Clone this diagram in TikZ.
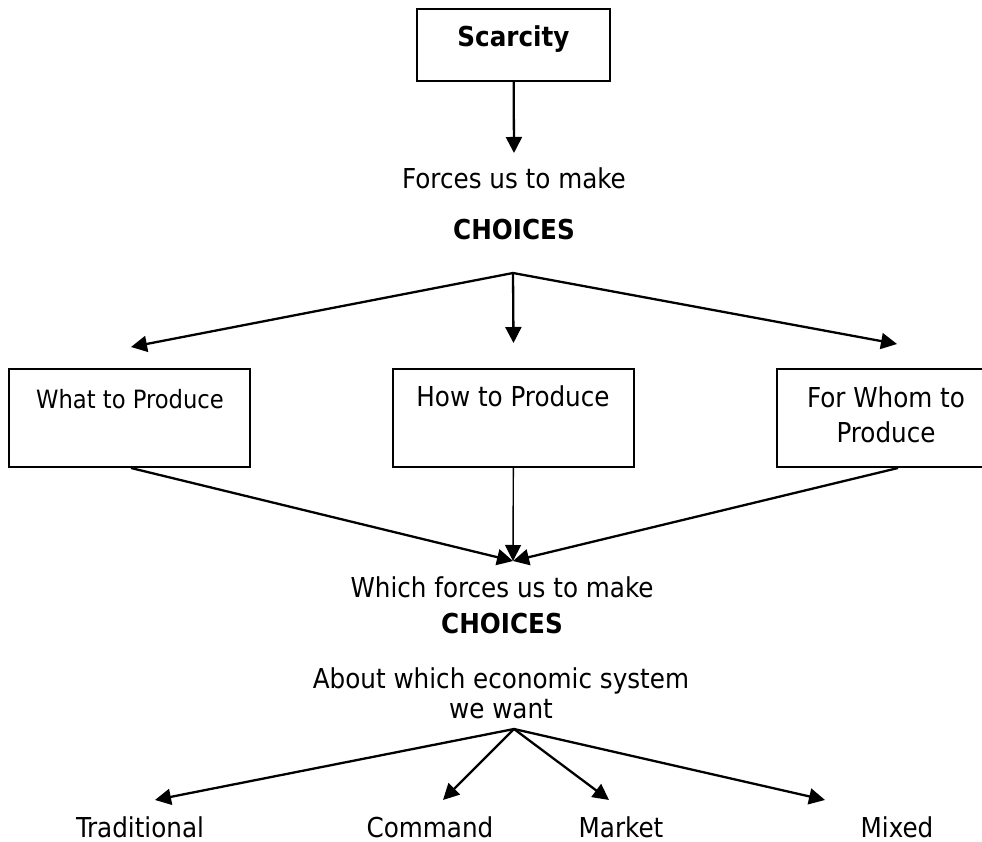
\documentclass[tikz,border=0pt]{standalone}
\usepackage{fontspec}
\setmainfont{DejaVu Sans Condensed}
\usetikzlibrary{arrows.meta, positioning}

\tikzset{
  txt/.style={inner sep=0pt, font=\fontsize{27.4}{35}\selectfont},
  btxt/.style={inner sep=0pt, font=\fontsize{27.4}{35}\selectfont\bfseries},
  qbox/.style={draw, line width=2pt, inner sep=0pt, minimum width=241pt, minimum height=98pt},
  arr/.style={line width=2.3pt, -{Triangle[length=16pt,width=16pt]}},
}

\begin{document}
\begin{tikzpicture}[x=1pt, y=-1pt]
  \useasboundingbox (0,0) rectangle (982,842);

  % === Scarcity ===
  \node[qbox, minimum width=193pt, minimum height=72pt] (scarcity) at (513.5,45) {};
  \node[btxt, anchor=base] (scarcitylbl) at (513.5,47) {Scarcity};

  \node[txt, anchor=base] (forces) at (514,189) {Forces us to make};
  \node[btxt, anchor=base] (choicesA) at (514,240) {CHOICES};
  \coordinate (fork) at (513,273);

  % === The three questions ===
  \node[qbox] (what) at (129.5,418) {};
  \node[qbox] (how) at (513.5,418) {};
  \node[qbox, minimum width=236pt] (forwhom) at (895,418) {};
  \node[txt, anchor=base, font=\fontsize{25.2}{32}\selectfont] (whatlbl) at (130,408) {What to Produce};
  \node[txt, anchor=base] (howlbl) at (513,406) {How to Produce};
  \node[txt, anchor=north, align=center] (forwhomlbl) at (886,386) {For Whom to\\Produce};

  \coordinate (join) at (513,561);

  % === Second choice ===
  \node[txt, anchor=base] (whichforces) at (502,597) {Which forces us to make};
  \node[btxt, anchor=base] (choicesB) at (502,633) {CHOICES};
  \node[txt, anchor=north, align=center, font=\fontsize{27.4}{30}\selectfont] (about) at (501,667) {About which economic system\\we want};
  \coordinate (fan) at (514,729);

  % === Economic systems ===
  \node[txt, anchor=base] (trad) at (140,837) {Traditional};
  \node[txt, anchor=base] (command) at (430,837) {Command};
  \node[txt, anchor=base] (market) at (621,837) {Market};
  \node[txt, anchor=base] (mixed) at (897,837) {Mixed};

  % === Arrows ===
  \draw[arr] (scarcity) -- ([yshift=15pt]forces.north);

  \draw[arr] (fork) -- ([xshift=1.5pt,yshift=21pt]what.north);
  \draw[arr] (fork) -- ([yshift=25pt]how.north);
  \draw[arr] (fork) -- ([xshift=2pt,yshift=24pt]forwhom.north);

  \draw[arr] ([xshift=1.5pt]what.south) -- (join);
  \draw[arr, line width=1.4pt] (how) -- (join);
  \draw[arr] ([xshift=3pt]forwhom.south) -- (join);

  \draw[arr] (fan) -- ([xshift=15pt,yshift=16pt]trad.north);
  \draw[arr] (fan) -- ([xshift=13pt,yshift=16pt]command.north);
  \draw[arr] (fan) -- ([xshift=-12pt,yshift=16pt]market.north);
  \draw[arr] (fan) -- ([xshift=-72pt,yshift=16pt]mixed.north);
\end{tikzpicture}
\end{document}
